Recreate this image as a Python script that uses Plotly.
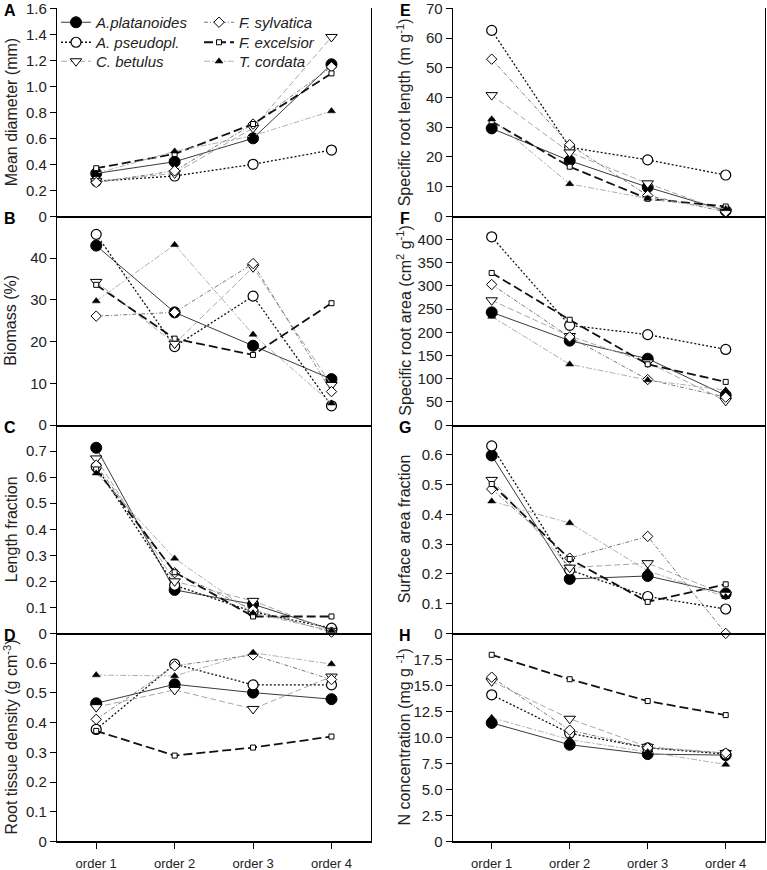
import plotly.graph_objects as go

orders = ["order 1", "order 2", "order 3", "order 4"]
species = ["A.platanoides", "A. pseudopl.", "C. betulus", "F. sylvatica", "F. excelsior", "T. cordata"]

# series order: A.platanoides, A. pseudopl., C. betulus, F. sylvatica, F. excelsior, T. cordata
mean_diameter = [
    [0.33, 0.42, 0.60, 1.17],
    [0.27, 0.31, 0.40, 0.51],
    [0.27, 0.33, 0.68, 1.38],
    [0.26, 0.35, 0.71, 1.15],
    [0.37, 0.48, 0.71, 1.10],
    [0.33, 0.50, 0.62, 0.81],
]
biomass = [
    [43.0, 27.0, 19.0, 11.0],
    [45.7, 18.8, 30.9, 4.6],
    [34.3, 19.5, 37.8, 9.6],
    [26.1, 27.0, 38.7, 8.0],
    [33.6, 20.7, 16.8, 29.2],
    [29.7, 43.2, 21.7, 5.2],
]
length_fraction = [
    [0.713, 0.167, 0.112, 0.015],
    [0.64, 0.185, 0.083, 0.02],
    [0.672, 0.20, 0.125, 0.01],
    [0.646, 0.233, 0.09, 0.005],
    [0.63, 0.235, 0.065, 0.065],
    [0.615, 0.288, 0.078, 0.01],
]
tissue_density = [
    [0.465, 0.529, 0.501, 0.479],
    [0.377, 0.597, 0.527, 0.527],
    [0.452, 0.510, 0.446, 0.555],
    [0.411, 0.591, 0.628, 0.545],
    [0.372, 0.289, 0.316, 0.353],
    [0.560, 0.557, 0.635, 0.597],
]
root_length = [
    [29.6, 18.7, 9.8, 1.9],
    [62.6, 23.2, 19.0, 13.9],
    [40.8, 21.5, 11.1, 1.5],
    [52.9, 24.1, 7.0, 1.5],
    [32.0, 16.7, 5.9, 3.3],
    [32.7, 10.9, 6.0, 2.5],
]
root_area = [
    [243, 182, 143, 64],
    [406, 215, 195, 163],
    [269, 192, 135, 52],
    [303, 190, 98, 60],
    [328, 227, 131, 93],
    [234, 131, 97, 75],
]
area_fraction = [
    [0.598, 0.183, 0.193, 0.134],
    [0.630, 0.213, 0.124, 0.082],
    [0.516, 0.221, 0.236, 0.13],
    [0.485, 0.253, 0.326, 0.0],
    [0.502, 0.250, 0.106, 0.165],
    [0.444, 0.371, 0.21, 0.123],
]
n_conc = [
    [11.4, 9.3, 8.4, 8.3],
    [14.1, 10.4, 9.0, 8.4],
    [15.4, 11.8, 9.1, 8.5],
    [15.8, 10.7, 9.0, 8.5],
    [17.95, 15.6, 13.5, 12.15],
    [11.9, 9.8, 8.6, 7.4],
]

styles = [
    dict(line=dict(color="#3a3a3a", width=1, dash="solid"),
         marker=dict(symbol="circle", size=11, color="black", line=dict(color="black", width=1))),
    dict(line=dict(color="#111111", width=1.3, dash="2px,2px"),
         marker=dict(symbol="circle", size=10, color="white", line=dict(color="black", width=1.2))),
    dict(line=dict(color="#a8a8a8", width=1, dash="6px,3px"),
         marker=dict(symbol="triangle-down", size=10, color="white", line=dict(color="black", width=1))),
    dict(line=dict(color="#777777", width=1, dash="4px,2px,1px,2px"),
         marker=dict(symbol="diamond", size=8, color="white", line=dict(color="black", width=1))),
    dict(line=dict(color="#111111", width=1.8, dash="9px,4px"),
         marker=dict(symbol="square", size=5, color="white", line=dict(color="black", width=1))),
    dict(line=dict(color="#b0b0b0", width=1, dash="6px,2px,2px,2px"),
         marker=dict(symbol="triangle-up", size=7, color="black", line=dict(color="black", width=0.5))),
]

W, H = 767, 870
xs = [1, 2, 3, 4]

def fmt(v, nd):
    if v == 0:
        return "0"
    return f"{v:.{nd}f}"

panels = [
    # (data, letter, title, yrange, tickvals, decimals, col, row)
    (mean_diameter, "A", "Mean diameter (mm)", [0, 1.6], [0, .2, .4, .6, .8, 1.0, 1.2, 1.4, 1.6], 1, 0, 0),
    (biomass, "B", "Biomass (%)", [0, 50], [0, 10, 20, 30, 40], 0, 0, 1),
    (length_fraction, "C", "Length fraction", [0, 0.8], [0, .1, .2, .3, .4, .5, .6, .7], 1, 0, 2),
    (tissue_density, "D", "Root tissue density (g cm<sup>-3</sup>)", [0, 0.7], [0, .1, .2, .3, .4, .5, .6], 1, 0, 3),
    (root_length, "E", "Specific root length (m g<sup>-1</sup>)", [0, 70], [0, 10, 20, 30, 40, 50, 60, 70], 0, 1, 0),
    (root_area, "F", "Specific root area (cm<sup>2</sup> g<sup>-1</sup>)", [0, 450], [0, 50, 100, 150, 200, 250, 300, 350, 400], 0, 1, 1),
    (area_fraction, "G", "Surface area fraction", [0, 0.7], [0, .1, .2, .3, .4, .5, .6], 1, 1, 2),
    (n_conc, "H", "N concentration (mg g <sup>-1</sup>)", [0, 20], [0, 2.5, 5, 7.5, 10, 12.5, 15, 17.5], 1, 1, 3),
]

col_x = [(57, 370.7), (452.7, 764.7)]
row_y = [(8.3, 216.3), (216.3, 425.0), (425.0, 633.4), (633.4, 841.4)]
title_x = [11, 404]
letter_x = [10, 405]

# legend placement: (legend id, x px of legend, y px of legend top)
legend_ids = ["legend", "legend2", "legend3", "legend4", "legend5", "legend6"]
legend_pos = [(56, 6), (56, 26), (56, 45), (199, 6), (199, 26), (199, 45)]

fig = go.Figure()
layout = dict(
    width=W, height=H, margin=dict(l=0, r=0, t=0, b=0, autoexpand=False),
    plot_bgcolor="white", paper_bgcolor="white",
    font=dict(family="Liberation Sans, Arial, sans-serif", size=14, color="#222222"),
    showlegend=True,
)
annotations = []

for i, (data, letter, title, yr, tv, nd, col, row) in enumerate(panels):
    k = i + 1
    xa = "xaxis" if k == 1 else f"xaxis{k}"
    ya = "yaxis" if k == 1 else f"yaxis{k}"
    xref = "x" if k == 1 else f"x{k}"
    yref = "y" if k == 1 else f"y{k}"
    x0, x1 = col_x[col]
    y0, y1 = row_y[row]
    bottom = row == 3
    layout[xa] = dict(
        domain=[x0 / W, x1 / W], anchor=yref, range=[0.5, 4.5],
        tickvals=xs, ticktext=orders, showticklabels=bottom,
        ticks="outside" if bottom else "", ticklen=6, tickwidth=1.2, tickcolor="black",
        showline=True, linecolor="black", linewidth=1.5, mirror=False,
        showgrid=False, zeroline=False, tickfont=dict(size=13), automargin=False,
        ticklabelstandoff=3, ticklabeloverflow="allow",
    )
    ticktext = [fmt(v, nd) for v in tv]
    layout[ya] = dict(
        domain=[1 - y1 / H, 1 - y0 / H], anchor=xref, range=[yr[0], yr[1] * 1.0005],
        tickvals=tv, ticktext=ticktext, ticks="outside", ticklen=6, tickwidth=1.2,
        tickcolor="black", showline=True, linecolor="black", linewidth=1.2, mirror=True,
        showgrid=False, zeroline=False, tickfont=dict(size=15), automargin=False,
        ticklabeloverflow="allow",
    )
    for s, (name, st) in enumerate(zip(species, styles)):
        fig.add_trace(go.Scatter(
            x=xs, y=data[s], mode="lines+markers", name=name,
            line=st["line"], marker=st["marker"], cliponaxis=False,
            xaxis=xref, yaxis=yref, legendgroup=name,
            showlegend=(k == 1), legend=legend_ids[s],
        ))
    annotations.append(dict(
        text=title, xref="paper", yref="paper", x=title_x[col] / W,
        y=1 - (y0 + y1) / 2 / H, textangle=-90, showarrow=False,
        xanchor="center", yanchor="middle", font=dict(size=16, color="#222222"),
    ))
    annotations.append(dict(
        text=f"<b>{letter}</b>", xref="paper", yref="paper", x=letter_x[col] / W,
        y=1 - (y0 + 2) / H, showarrow=False, xanchor="center", yanchor="middle",
        font=dict(size=16, color="black"),
    ))

for lid, (lx, ly) in zip(legend_ids, legend_pos):
    layout[lid] = dict(
        x=lx / W, y=1 - ly / H, bgcolor="rgba(0,0,0,0)",
        font=dict(size=15, style="italic", color="#222222"),
        yanchor="top", xanchor="left", itemsizing="trace",
    )
layout["annotations"] = annotations
fig.update_layout(**layout)

fig.write_html(
    "out.html",
    config={"displayModeBar": False},
    post_script="document.body.style.margin='0px';document.body.style.overflow='hidden';",
)
